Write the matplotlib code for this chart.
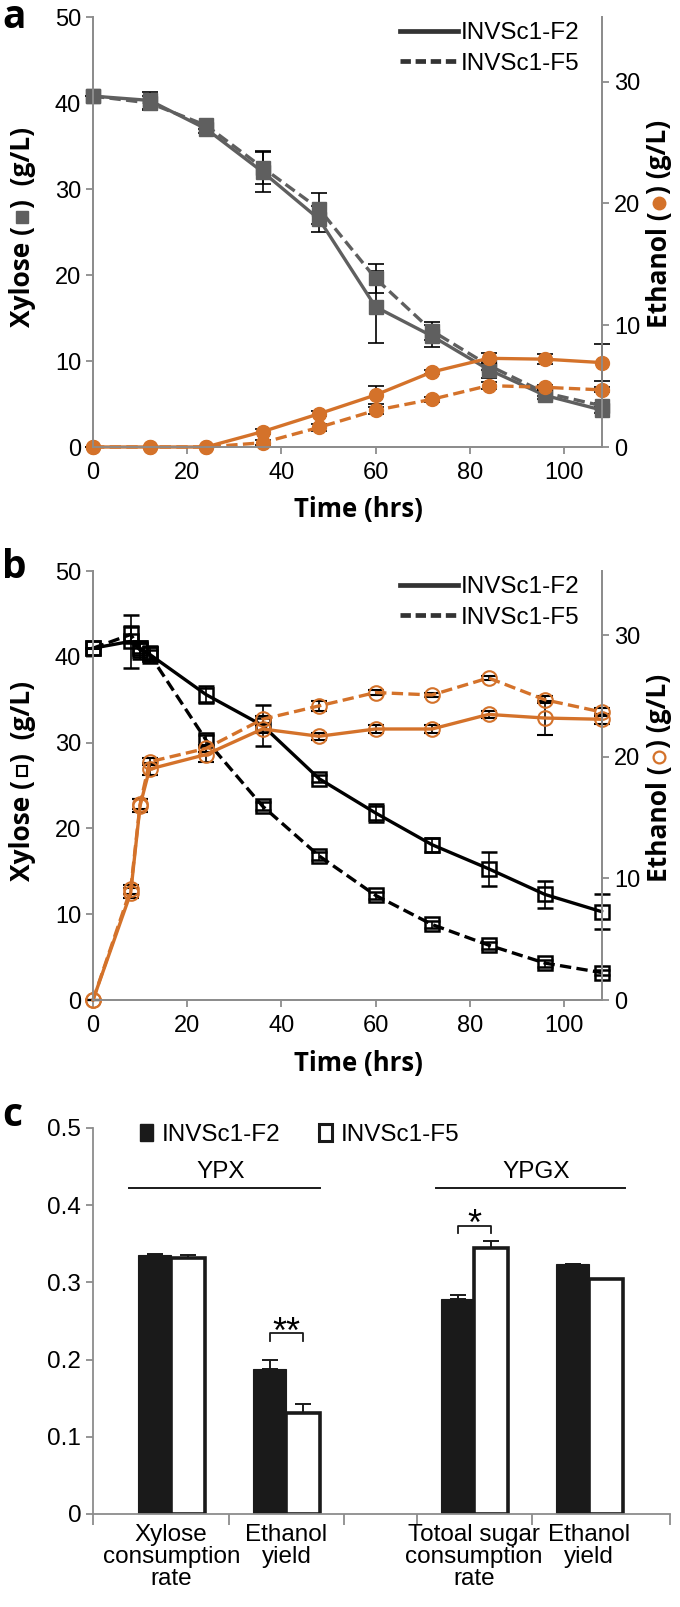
import matplotlib
matplotlib.use("Agg")
import matplotlib.pyplot as plt
from matplotlib.lines import Line2D
from matplotlib.patches import Patch
import numpy as np

plt.rcParams['font.family'] = ['Liberation Sans', 'DejaVu Sans']

# ---- panel a data ----
t_a = [0, 12, 24, 36, 48, 60, 72, 84, 96, 108]
xyl_a_f2 = [40.8, 40.3, 37.0, 32.0, 26.5, 16.3, 12.9, 9.0, 6.0, 4.3]
xyl_a_f5 = [40.8, 40.0, 37.4, 32.5, 27.7, 19.6, 13.5, 9.5, 6.3, 4.8]
xyl_a_f2_err = [0, 1.0, 0.5, 2.3, 1.5, 4.2, 1.3, 1.0, 0.4, 0.3]
xyl_a_f5_err = [0, 0.8, 0.4, 1.9, 1.8, 1.7, 1.0, 0.6, 0.4, 0.3]
eth_a_f2 = [0, 0, 0, 1.26, 2.73, 4.27, 6.16, 7.28, 7.21, 6.93]
eth_a_f5 = [0, 0, 0, 0.35, 1.61, 3.01, 3.92, 5.04, 4.90, 4.69]
eth_a_f2_err = [0, 0, 0, 0.2, 0.2, 0.7, 0.2, 0.4, 0.4, 1.5]
eth_a_f5_err = [0, 0, 0, 0.2, 0.3, 0.3, 0.2, 0.3, 0.2, 0.2]

# ---- panel b data ----
t_b = [0, 8, 10, 12, 24, 36, 48, 60, 72, 84, 96, 108]
xyl_b_f2 = [41.0, 41.8, 40.8, 40.3, 35.6, 32.0, 25.8, 21.8, 18.1, 15.3, 12.3, 10.3]
xyl_b_f5 = [41.0, 42.6, 41.0, 40.3, 30.3, 22.6, 16.8, 12.2, 8.8, 6.4, 4.3, 3.2]
xyl_b_f2_err = [0, 3.1, 1.0, 1.0, 1.0, 2.4, 0.4, 1.0, 0.8, 2.0, 1.6, 2.0]
xyl_b_f5_err = [0, 1.0, 0.6, 0.5, 0.6, 0.5, 0.5, 0.4, 0.4, 0.4, 0.4, 0.3]
eth_b_f2 = [0, 8.8, 16.0, 19.0, 20.2, 22.3, 21.7, 22.3, 22.3, 23.5, 23.2, 23.1]
eth_b_f5 = [0, 9.1, 16.1, 19.6, 20.7, 23.1, 24.2, 25.3, 25.1, 26.5, 24.7, 23.7]
eth_b_f2_err = [0, 0.4, 0.5, 0.5, 0.6, 0.3, 0.3, 0.3, 0.3, 0.3, 1.4, 0.4]
eth_b_f5_err = [0, 0.4, 0.4, 0.3, 0.3, 0.3, 0.4, 0.2, 0.2, 0.2, 0.3, 0.3]

# ---- panel c data ----
cat_c = ['Xylose\nconsumption\nrate', 'Ethanol\nyield', 'Totoal sugar\nconsumption\nrate', 'Ethanol\nyield']
pos_c = [0, 1, 2.63, 3.63]
val_c_f2 = [0.335, 0.188, 0.279, 0.324]
val_c_f5 = [0.331, 0.131, 0.345, 0.304]
err_c_f2 = [0.002, 0.011, 0.005, 0]
err_c_f5 = [0.004, 0.012, 0.009, 0]
tick_c = [-0.68, 0.5, 1.5, 2.13, 3.13, 4.33]

GRAY = '#5f5f5f'
ORANGE = '#d4722a'
AXC = '#8c8c8c'
FS = 17
W, H = 680, 1607

fig = plt.figure(figsize=(6.8, 16.07), dpi=100)


def rect(left, top, right, bottom):
    return [left / W, 1 - bottom / H, (right - left) / W, (bottom - top) / H]


def style_axis(ax, fs=FS):
    for s in ['left', 'right', 'bottom', 'top']:
        ax.spines[s].set_color(AXC)
        ax.spines[s].set_linewidth(1.3)
    ax.tick_params(colors=AXC, labelcolor='black', labelsize=fs, length=5, width=1.3)


def stacked_label(xc, yc, before, after, mk, fs=19):
    # rotated label with a plot marker between the two text pieces
    em = fs * 100 / 72.0
    xb = (xc + 0.36 * em) / W
    kw = dict(rotation=90, rotation_mode='anchor', ha='left', va='baseline',
              fontsize=fs, fontweight='bold', family=['Open Sans', 'DejaVu Sans'])
    t1 = fig.text(xb, 0.5, before, **kw)
    t2 = fig.text(xb, 0.5, after, **kw)
    fig.canvas.draw()
    r = fig.canvas.get_renderer()
    h1 = t1.get_window_extent(r).height / H
    h2 = t2.get_window_extent(r).height / H
    hm = 0.55 * em / H
    gap = 0.001
    total = h1 + hm + h2 + 2 * gap
    y = (1 - yc / H) - total / 2
    t1.set_y(y)
    ym = y + h1 + gap + hm / 2
    t2.set_y(y + h1 + hm + 2 * gap)
    fig.add_artist(Line2D([xb - 0.30 * em / W], [ym], transform=fig.transFigure, ls='none', **mk))


def time_panel(r, xf2, xf5, xf2e, xf5e, ef2, ef5, ef2e, ef5e, t, filled, xlab_y):
    ax = fig.add_axes(r)
    ax2 = ax.twinx()
    if filled:
        sq = dict(marker='s', ms=10.5, mfc=GRAY, mec=GRAY)
        ci = dict(marker='o', ms=10, mfc=ORANGE, mec=ORANGE)
        lc = GRAY
    else:
        sq = dict(marker='s', ms=10, mfc='none', mec='black', mew=1.8)
        ci = dict(marker='o', ms=10.5, mfc='none', mec=ORANGE, mew=1.5)
        lc = 'black'
    eb = dict(ecolor='black', elinewidth=1.2, capsize=6, capthick=1.2, clip_on=False, lw=2.4)
    dash = (0, (3.4, 1.6))
    ax.errorbar(t, xf5, yerr=xf5e, color=lc, ls=dash, **sq, **eb)
    ax.errorbar(t, xf2, yerr=xf2e, color=lc, ls='-', **sq, **eb)
    ax2.errorbar(t, ef5, yerr=ef5e, color=ORANGE, ls=dash, **ci, **eb)
    ax2.errorbar(t, ef2, yerr=ef2e, color=ORANGE, ls='-', **ci, **eb)
    ax.set_xlim(0, 108.1)
    ax.set_ylim(0, 50)
    ax2.set_ylim(0, 35.3)
    ax.set_xticks(range(0, 101, 20))
    ax.set_yticks(range(0, 51, 10))
    ax2.set_yticks(range(0, 31, 10))
    for a in (ax, ax2):
        style_axis(a)
        a.spines['top'].set_visible(False)
    ax.tick_params(axis='x', pad=6)
    fig.text(358 / W, 1 - xlab_y / H, 'Time (hrs)', fontsize=18.5, fontweight='bold',
             family='Open Sans', ha='center', va='center')
    h = [Line2D([], [], color='#333333', lw=3.4),
         Line2D([], [], color='#333333', lw=3.4, ls=(0, (2.2, 1.0)))]
    ax2.legend(h, ['INVSc1-F2', 'INVSc1-F5'], loc='upper right', frameon=False,
               fontsize=17.5, handlelength=2.4, handletextpad=0.12,
               borderaxespad=0.0, labelspacing=0.35, bbox_to_anchor=(0.975, 1.01))
    return ax, ax2


# panel a
time_panel(rect(93, 17, 602, 447), xyl_a_f2, xyl_a_f5, xyl_a_f2_err, xyl_a_f5_err,
           eth_a_f2, eth_a_f5, eth_a_f2_err, eth_a_f5_err, t_a, True, 510)
# panel b
time_panel(rect(93, 571, 602, 1000), xyl_b_f2, xyl_b_f5, xyl_b_f2_err, xyl_b_f5_err,
           eth_b_f2, eth_b_f5, eth_b_f2_err, eth_b_f5_err, t_b, False, 1063)

# panel c
FC = 17.5
axc = fig.add_axes(rect(93, 1128, 670, 1514))
bw = 0.29
x = np.array(pos_c)
ekw = dict(ecolor='#1a1a1a', elinewidth=1.4, capsize=6, capthick=1.4)
axc.bar(x - bw / 2, val_c_f2, bw, color='#1a1a1a', edgecolor='#1a1a1a', lw=0.8,
        yerr=[[0] * 4, err_c_f2], error_kw=ekw)
axc.bar(x + bw / 2, val_c_f5, bw, color='white', edgecolor='#1a1a1a', lw=2.6,
        yerr=[[0] * 4, err_c_f5], error_kw=ekw)
axc.set_ylim(0, 0.5)
axc.set_xlim(tick_c[0], tick_c[-1])
axc.set_yticks([0, 0.1, 0.2, 0.3, 0.4, 0.5])
axc.set_yticklabels(['0', '0.1', '0.2', '0.3', '0.4', '0.5'])
axc.set_xticks(tick_c)
axc.set_xticklabels([])
style_axis(axc, fs=FC)
axc.tick_params(axis='x', length=8)
axc.spines['top'].set_visible(False)
axc.spines['right'].set_visible(False)
for xc, lab in zip(pos_c, cat_c):
    axc.text(xc, -0.025, lab, transform=axc.get_xaxis_transform(), ha='center', va='top',
             fontsize=FC, linespacing=1.0)
# group lines
axc.plot([-0.37, 1.29], [0.422, 0.422], color='#1a1a1a', lw=1.4)
axc.plot([2.30, 3.94], [0.422, 0.422], color='#1a1a1a', lw=1.4)
axc.text(0.43, 0.443, 'YPX', ha='center', va='center', fontsize=FC)
axc.text(3.17, 0.443, 'YPGX', ha='center', va='center', fontsize=FC)
# significance brackets
axc.plot([1 - bw / 2, 1 - bw / 2, 1 + bw / 2, 1 + bw / 2], [0.224, 0.234, 0.234, 0.224],
         color='#1a1a1a', lw=1.3)
axc.text(1, 0.221, '**', ha='center', va='baseline', fontsize=26)
axc.plot([2.63 - bw / 2, 2.63 - bw / 2, 2.63 + bw / 2, 2.63 + bw / 2], [0.364, 0.373, 0.373, 0.364],
         color='#1a1a1a', lw=1.3)
axc.text(2.63, 0.361, '*', ha='center', va='baseline', fontsize=26)
hc = [Patch(facecolor='#1a1a1a', edgecolor='#1a1a1a'),
      Patch(facecolor='white', edgecolor='#1a1a1a', lw=2.2)]
axc.legend(hc, ['INVSc1-F2', 'INVSc1-F5'], ncol=2, loc='center left', frameon=False,
           fontsize=FC, handlelength=0.55, handleheight=0.7, handletextpad=0.35,
           columnspacing=1.6, borderaxespad=0, bbox_to_anchor=(0.064, 0.982))

# panel letters
for ytop, let in [(-2, 'a'), (548, 'b'), (1096, 'c')]:
    fig.text(2 / W, 1 - ytop / H, let, fontsize=28, fontweight='bold', va='top',
             family='Open Sans')

# composite axis labels
stacked_label(20, 227, 'Xylose (', ')  (g/L)', dict(marker='s', ms=8, mfc=GRAY, mec=GRAY))
stacked_label(657, 224, 'Ethanol (', ') (g/L)', dict(marker='o', ms=9, mfc=ORANGE, mec=ORANGE))
stacked_label(20, 781, 'Xylose (', ')  (g/L)', dict(marker='s', ms=7.5, mfc='none', mec='black', mew=1.5))
stacked_label(657, 778, 'Ethanol (', ') (g/L)', dict(marker='o', ms=8.5, mfc='none', mec=ORANGE, mew=1.6))

fig.savefig('out.png', dpi=100)
